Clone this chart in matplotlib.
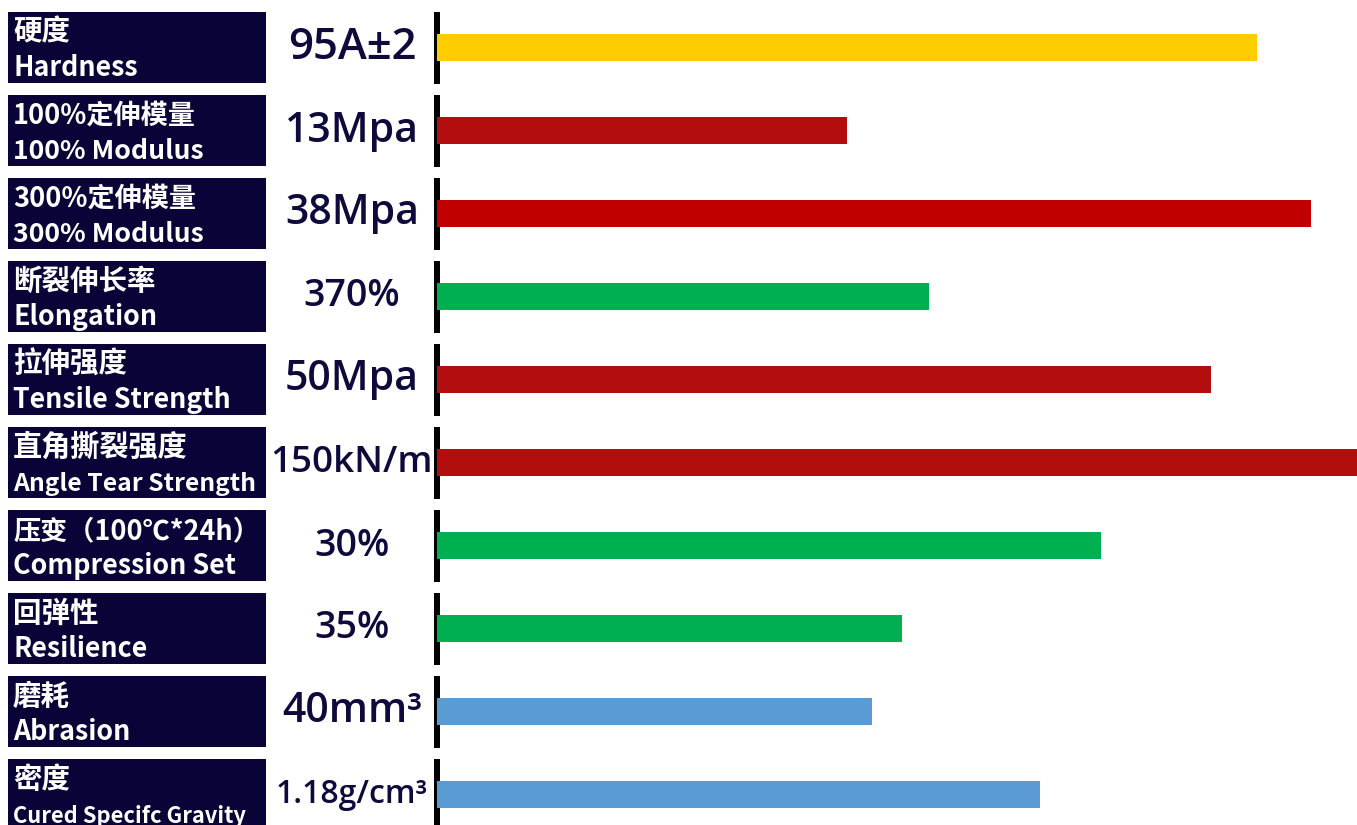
import matplotlib
matplotlib.use("Agg")
import matplotlib.pyplot as plt
from matplotlib.patches import Rectangle

plt.rcParams["font.family"] = ["Noto Sans CJK SC", "DejaVu Sans"]

# property names (Chinese / English), value text, bar length (% of longest) and colour
names_cn = ["硬度", "100%定伸模量", "300%定伸模量", "断裂伸长率", "拉伸强度",
            "直角撕裂强度", "压变（100℃*24h）", "回弹性", "磨耗", "密度"]
names_en = ["Hardness", "100% Modulus", "300% Modulus", "Elongation", "Tensile Strength",
            "Angle Tear Strength", "Compression Set", "Resilience", "Abrasion",
            "Cured Specifc Gravity"]
values = ["95A±2", "13Mpa", "38Mpa", "370%", "50Mpa", "150kN/m", "30%", "35%",
          "40mm³", "1.18g/cm³"]
bar_len = [89.1, 44.6, 95.0, 53.5, 84.1, 100.0, 72.2, 50.5, 47.3, 65.5]
bar_colors = ["#FFCC00", "#B20E0E", "#C00000", "#00B050", "#B20E0E",
              "#B20E0E", "#00B050", "#00B050", "#5B9BD5", "#5B9BD5"]
value_size = [31.5, 29.5, 29.5, 27, 29.5, 26.5, 27, 27, 29.5, 23]
cn_size = [20.5, 19.5, 19.5, 20.5, 20.5, 21, 19.5, 20.5, 20.5, 20.5]
en_size = [19.3, 19.2, 19.2, 19.3, 19.3, 17.8, 19.3, 19.3, 19.3, 15.8]

W, H, DPI = 1357, 825, 100
row_px = 83.0
top = -0.5 - 6 / row_px
bottom = top + H / row_px

fig = plt.figure(figsize=(W / DPI, H / DPI), dpi=DPI)
fig.patch.set_facecolor("white")

# background axes: x in pixels, y in rows
ax = fig.add_axes([0, 0, 1, 1])
ax.set_xlim(0, W)
ax.set_ylim(bottom, top)
ax.axis("off")

navy = "#0A0338"
val_fonts = ["Open Sans", "Noto Sans CJK SC", "DejaVu Sans"]
for i in range(len(values)):
    ax.add_patch(Rectangle((8, i - 0.4277), 258, 0.855, facecolor=navy, edgecolor="none"))
    ax.text(13, i - 0.08, names_cn[i], color="white", fontsize=cn_size[i],
            va="baseline", ha="left", fontweight="bold")
    ax.text(13, i + 0.34, names_en[i], color="white", fontsize=en_size[i],
            va="baseline", ha="left", fontweight="bold")
    ax.text(352, i, values[i], color="#0E0A3C", fontsize=value_size[i],
            va="center", ha="center", fontweight="semibold", family=val_fonts)
    ax.vlines(437, i - 0.4277, i + 0.4406, color="black", lw=6 * 72 / DPI)

# bar axes, same row scale
x0 = 437 / W
bx = fig.add_axes([x0, 0, 1 - x0, 1])
bx.set_xlim(0, 100)
bx.set_ylim(bottom, top)
bx.axis("off")
bx.patch.set_alpha(0)
bx.barh(range(len(bar_len)), bar_len, height=0.315, color=bar_colors)

fig.savefig("out.png", dpi=DPI)
